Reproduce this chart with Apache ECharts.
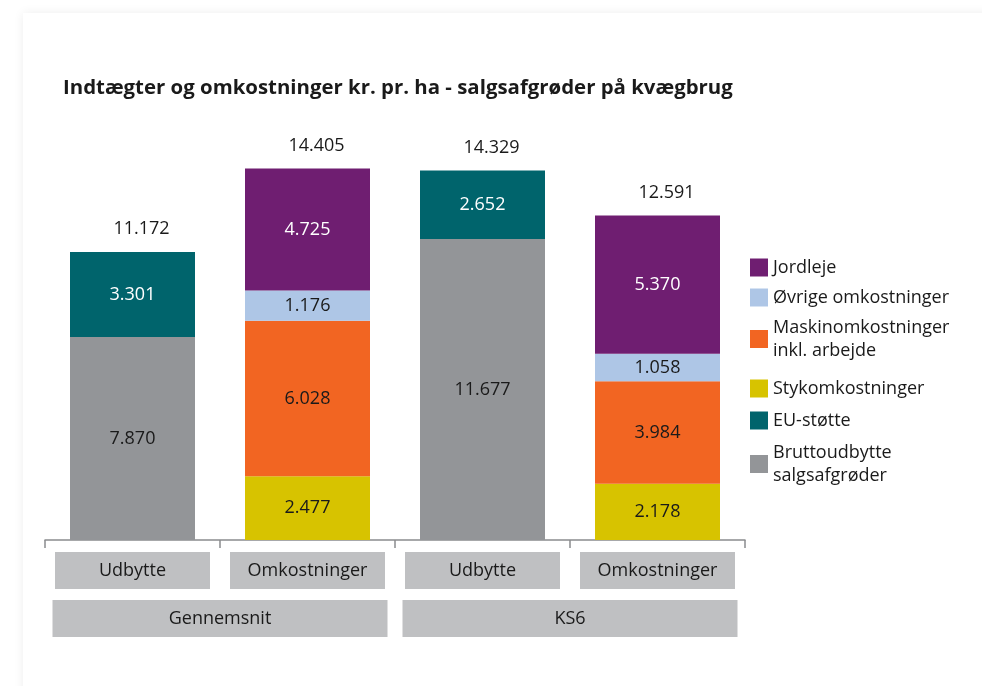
<!DOCTYPE html>
<html>
<head>
<meta charset="utf-8">
<script src="https://cdn.jsdelivr.net/npm/echarts@6/dist/echarts.min.js"></script>
<style>
  html, body { margin:0; padding:0; background:#ffffff; width:982px; height:686px; overflow:hidden; }
  #card { position:absolute; left:23px; top:13px; width:1000px; height:700px; background:#fff;
          box-shadow: 0 0 10px rgba(0,0,0,0.07); }
  #chart { position:absolute; left:0; top:0; width:982px; height:686px; }
</style>
</head>
<body>
<div id="card"></div>
<div id="chart"></div>
<script>
const title = 'Indtægter og omkostninger kr. pr. ha - salgsafgrøder på kvægbrug';
const categories = ['Udbytte', 'Omkostninger', 'Udbytte', 'Omkostninger'];
const groups = ['Gennemsnit', 'KS6'];
const brutto   = [7870, null, 11677, null];
const euStotte = [3301, null, 2652, null];
const styk     = [null, 2477, null, 2178];
const maskin   = [null, 6028, null, 3984];
const ovrige   = [null, 1176, null, 1058];
const jordleje = [null, 4725, null, 5370];
const totals   = [11172, 14405, 14329, 12591];

const seriesNames = {
  brutto: 'Bruttoudbytte\nsalgsafgrøder',
  eu: 'EU-støtte',
  styk: 'Stykomkostninger',
  maskin: 'Maskinomkostninger\ninkl. arbejde',
  ovrige: 'Øvrige omkostninger',
  jord: 'Jordleje'
};

const FONT = '"Open Sans", "Noto Sans", sans-serif';
function fmt(v) { return String(v).replace(/\B(?=(\d{3})+(?!\d))/g, '.'); }

function barSeries(name, data, color, labelColor) {
  return {
    name: name, type: 'bar', stack: 'all', data: data, barWidth: 125,
    itemStyle: { color: color },
    label: { show: true, position: 'inside', color: labelColor, fontFamily: FONT, fontSize: 18,
             formatter: p => fmt(p.value) }
  };
}

const legendBase = {
  orient: 'vertical', left: 745, icon: 'rect', itemWidth: 18, itemHeight: 18, itemGap: 7,
  textStyle: { fontFamily: FONT, fontSize: 18, color: '#1a1a1a', lineHeight: 23 },
  selectedMode: false
};

const chart = echarts.init(document.getElementById('chart'), null, { renderer: 'canvas' });
chart.setOption({
  animation: false,
  backgroundColor: 'transparent',
  title: {
    text: title, left: 58, top: 73,
    textStyle: { fontFamily: FONT, fontWeight: 'bold', fontSize: 20.4, color: '#1a1a1a' }
  },
  grid: { left: 45, right: 237, top: 127.5, bottom: 146, containLabel: false },
  legend: [
    Object.assign({}, legendBase, { top: 251, data: [seriesNames.jord, seriesNames.ovrige, seriesNames.maskin] }),
    Object.assign({}, legendBase, { top: 372, itemGap: 9, data: [seriesNames.styk, seriesNames.eu, seriesNames.brutto] })
  ],
  xAxis: [
    {
      type: 'category', data: categories, position: 'bottom',
      axisLine: { lineStyle: { color: '#8a8c8e', width: 1.5 } },
      axisTick: { show: true, length: 8, lineStyle: { color: '#8a8c8e', width: 1.5 } },
      axisLabel: {
        margin: 12, fontFamily: FONT, fontSize: 18, color: '#1a1a1a',
        backgroundColor: '#bfc0c2', width: 155, height: 37, lineHeight: 37, align: 'center'
      }
    },
    {
      type: 'category', data: groups, position: 'bottom', offset: 48,
      axisLine: { show: false }, axisTick: { show: false },
      axisLabel: {
        margin: 12, fontFamily: FONT, fontSize: 18, color: '#1a1a1a',
        backgroundColor: '#bfc0c2', width: 335, height: 37, lineHeight: 37, align: 'center'
      }
    }
  ],
  yAxis: { type: 'value', min: 0, max: 16000, show: false, splitLine: { show: false } },
  series: [
    barSeries(seriesNames.brutto, brutto, '#939598', '#1a1a1a'),
    barSeries(seriesNames.eu, euStotte, '#00646c', '#ffffff'),
    barSeries(seriesNames.styk, styk, '#d7c300', '#1a1a1a'),
    barSeries(seriesNames.maskin, maskin, '#f26522', '#1a1a1a'),
    barSeries(seriesNames.ovrige, ovrige, '#aec6e6', '#1a1a1a'),
    barSeries(seriesNames.jord, jordleje, '#6f1e71', '#ffffff'),
    {
      name: 'total', type: 'scatter', data: totals, symbol: 'circle', symbolSize: 2, silent: true,
      itemStyle: { color: 'rgba(255,255,255,0)', opacity: 1 },
      label: { show: true, position: 'top', distance: 13, offset: [9, 0], color: '#1a1a1a', fontFamily: FONT, fontSize: 18,
               formatter: p => fmt(p.value) }
    }
  ]
});
</script>
</body>
</html>
